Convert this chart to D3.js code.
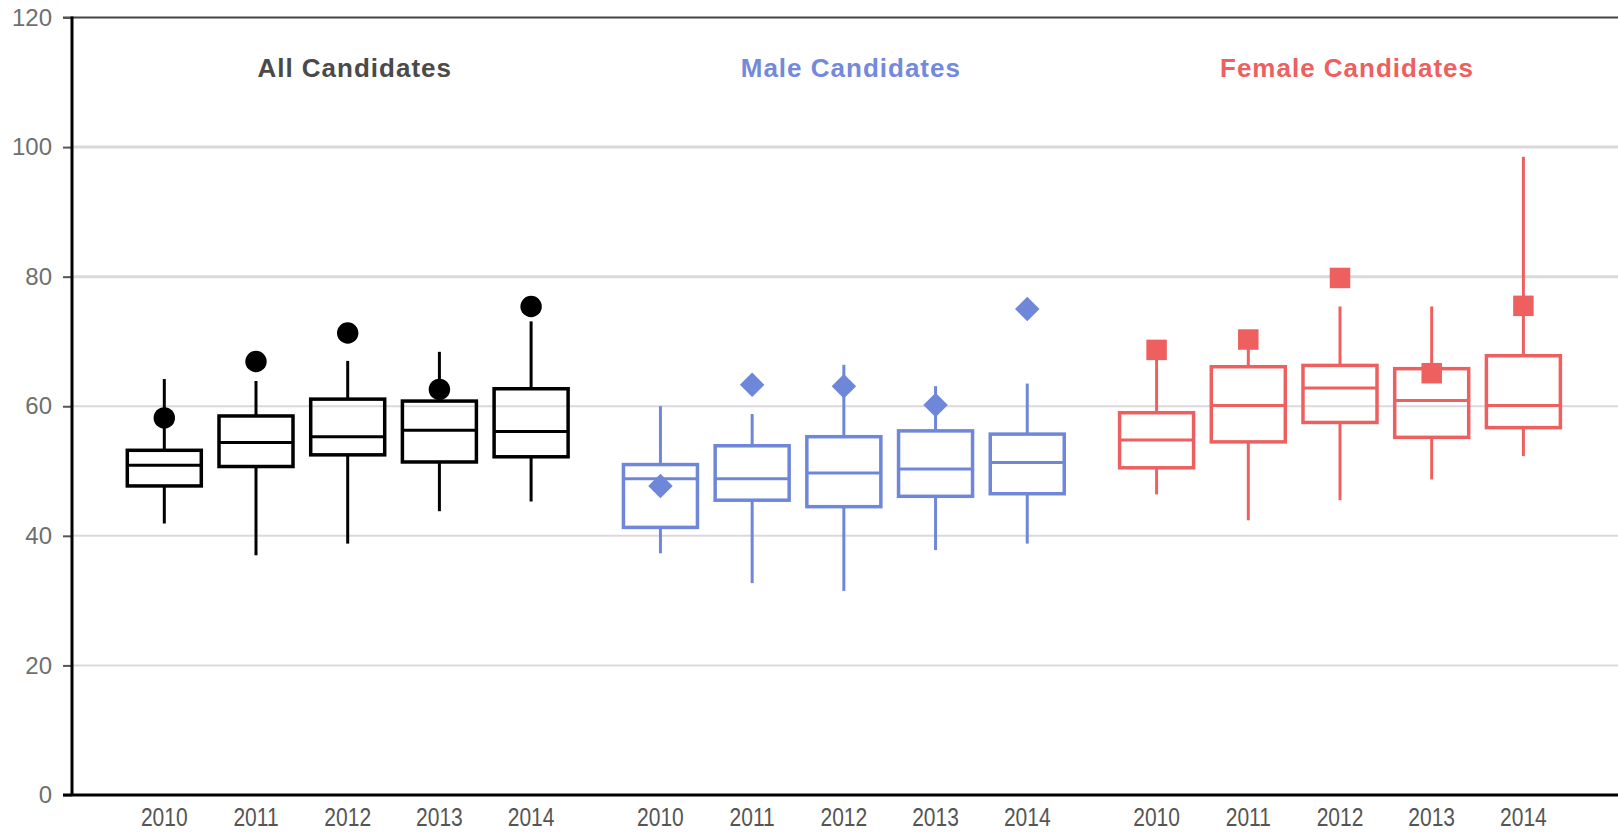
<!DOCTYPE html>
<html>
<head>
<meta charset="UTF-8">
<title>Candidates box plot</title>
<style>
  body { margin: 0; background: #fff; }
  svg { display: block; font-family: "Liberation Sans", Arial, sans-serif; }
  .grid line { stroke: #dcd7dd; }
  .yaxis text { fill: #6f6f6f; font-size: 24px; }
  .yaxis line { stroke: #555; stroke-width: 2px; }
  .yaxis path { display: none; }
  .title { font-size: 26px; font-weight: bold; letter-spacing: 1px; text-anchor: middle; }
  .year { fill: #555; font-size: 21px; text-anchor: middle; }
</style>
</head>
<body>
<script src="https://cdnjs.cloudflare.com/ajax/libs/d3/7.8.5/d3.min.js"></script>
<svg id="chart" width="1618" height="832"></svg>
<script>
var years = ["2010", "2011", "2012", "2013", "2014"];
var groups = ["All Candidates", "Male Candidates", "Female Candidates"];
var colors = ["#000000", "#6f87d9", "#ee6060"];
var titleColors = ["#4a4a4a", "#7389db", "#ee5f5f"];
var outlierShapes = ["circle", "diamond", "square"];
var yTicks = [0, 20, 40, 60, 80, 100, 120];

// one row per group, one value per year
var whiskerLow = [
  [41.9, 37.0, 38.8, 43.8, 45.3],
  [37.3, 32.7, 31.5, 37.8, 38.8],
  [46.4, 42.4, 45.5, 48.7, 52.3]
];
var q1 = [
  [47.7, 50.7, 52.5, 51.4, 52.2],
  [41.3, 45.5, 44.5, 46.1, 46.5],
  [50.5, 54.5, 57.5, 55.2, 56.7]
];
var median = [
  [50.9, 54.4, 55.3, 56.3, 56.1],
  [48.8, 48.8, 49.7, 50.3, 51.3],
  [54.8, 60.1, 62.8, 60.9, 60.1]
];
var q3 = [
  [53.2, 58.5, 61.1, 60.8, 62.7],
  [51.0, 53.9, 55.3, 56.2, 55.7],
  [59.0, 66.1, 66.3, 65.8, 67.8]
];
var whiskerHigh = [
  [64.2, 63.9, 67.0, 68.4, 73.1],
  [60.0, 58.8, 66.4, 63.1, 63.5],
  [67.5, 69.0, 75.4, 75.4, 98.5]
];
var outlier = [
  [58.2, 66.9, 71.3, 62.6, 75.4],
  [47.7, 63.3, 63.1, 60.2, 75.0],
  [68.7, 70.3, 79.8, 65.1, 75.5]
];

var svg = d3.select("#chart"),
    width = +svg.attr("width"),
    axisX = 72,
    boxW = 74;

var y = d3.scaleLinear().domain([0, 120]).range([795, 17.5]);

var gx = d3.scaleBand().domain(groups).range([164.3, 1523.4]).paddingInner(0.2607).paddingOuter(0);
var yx = d3.scalePoint().domain(years).range([0, gx.bandwidth()]);

function xpos(g, yr) { return gx(groups[g]) + yx(yr); }

// gridlines
svg.append("g").attr("class", "grid")
  .selectAll("line").data(yTicks.filter(function (d) { return d > 0 && d < 120; }))
  .enter().append("line")
  .attr("x1", axisX).attr("x2", width)
  .attr("y1", function (d) { return y(d); }).attr("y2", function (d) { return y(d); })
  .style("stroke-width", function (d) { return d >= 80 ? 3 : 2; });

// top border line
svg.append("line")
  .attr("x1", 63).attr("x2", width).attr("y1", y(120)).attr("y2", y(120))
  .style("stroke", "#444").style("stroke-width", 2);

// y axis
svg.append("g").attr("class", "yaxis")
  .attr("transform", "translate(" + axisX + ",0)")
  .call(d3.axisLeft(y).tickValues(yTicks).tickSize(9).tickPadding(11));

svg.append("line")
  .attr("x1", axisX).attr("x2", axisX).attr("y1", y(120) - 1).attr("y2", y(0) + 1)
  .style("stroke", "#000").style("stroke-width", 3);

svg.append("line")
  .attr("x1", 63).attr("x2", width).attr("y1", y(0)).attr("y2", y(0))
  .style("stroke", "#000").style("stroke-width", 3);

// titles
svg.selectAll(".title").data(groups).enter().append("text")
  .attr("class", "title")
  .attr("x", function (d) { return gx(d) + gx.bandwidth() / 2 + 7; })
  .attr("y", 77)
  .style("fill", function (d, i) { return titleColors[i]; })
  .text(function (d) { return d; });

// boxes
groups.forEach(function (gname, g) {
  var col = colors[g];
  var layer = svg.append("g").attr("class", "group");
  years.forEach(function (yr, i) {
    var cx = xpos(g, yr);
    var b = layer.append("g").attr("class", "box");
    // whiskers
    b.append("line")
      .attr("x1", cx).attr("x2", cx)
      .attr("y1", y(q3[g][i])).attr("y2", y(whiskerHigh[g][i]))
      .style("stroke", col).style("stroke-width", 3);
    b.append("line")
      .attr("x1", cx).attr("x2", cx)
      .attr("y1", y(q1[g][i])).attr("y2", y(whiskerLow[g][i]))
      .style("stroke", col).style("stroke-width", 3);
    b.append("rect")
      .attr("x", cx - boxW / 2).attr("width", boxW)
      .attr("y", y(q3[g][i])).attr("height", y(q1[g][i]) - y(q3[g][i]))
      .style("fill", "none").style("stroke", col).style("stroke-width", 3.5);
    b.append("line")
      .attr("x1", cx - boxW / 2).attr("x2", cx + boxW / 2)
      .attr("y1", y(median[g][i])).attr("y2", y(median[g][i]))
      .style("stroke", col).style("stroke-width", 3);

    var shape = outlierShapes[g], sym;
    if (shape === "circle") sym = d3.symbol().type(d3.symbolCircle).size(360);
    else if (shape === "diamond") sym = d3.symbol().type(d3.symbolSquare).size(300);
    else sym = d3.symbol().type(d3.symbolSquare).size(420);
    b.append("path")
      .attr("d", sym())
      .attr("transform", "translate(" + cx + "," + y(outlier[g][i]) + ")" + (shape === "diamond" ? " rotate(45)" : ""))
      .style("fill", col);

    // year label
    svg.append("text")
      .attr("class", "year")
      .attr("transform", "translate(" + cx + ",826) scale(1,1.25)")
      .text(yr);
  });
});
</script>
</body>
</html>
